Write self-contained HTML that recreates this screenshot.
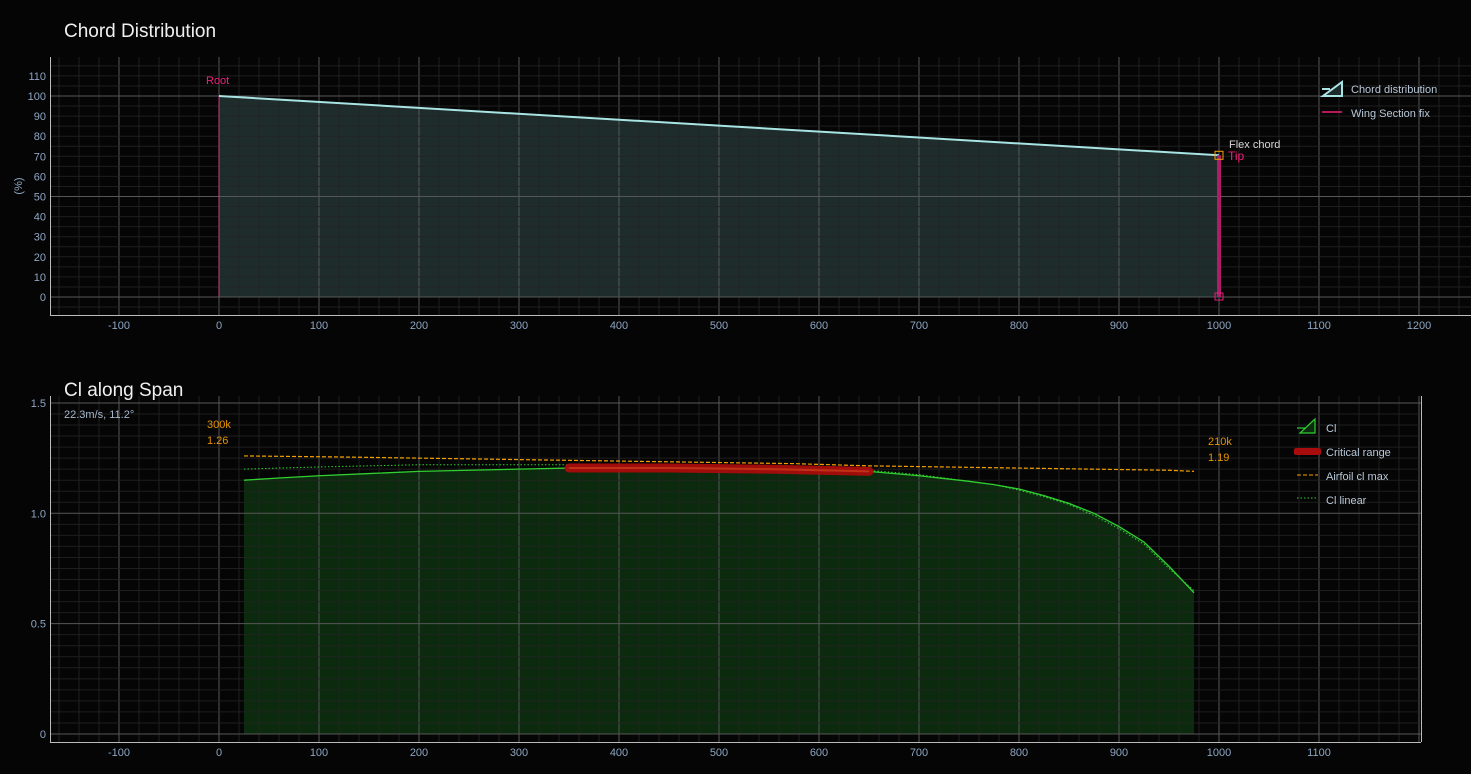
<!DOCTYPE html>
<html><head><meta charset="utf-8">
<style>
html,body{margin:0;padding:0;background:#050505;}
svg{display:block;font-family:"Liberation Sans",sans-serif;}
</style></head>
<body>
<svg id="c" width="1471" height="774" xmlns="http://www.w3.org/2000/svg">
<rect width="1471" height="774" fill="#050505"/>
</svg>
<script>
// ---- chord chart data ----
const chordX = [0, 1000];
const chordY = [100, 70.5];
const chordXTicks = [-100,0,100,200,300,400,500,600,700,800,900,1000,1100,1200];
const chordYTicks = [0,10,20,30,40,50,60,70,80,90,100,110];
// ---- Cl chart data ----
const clX = [25,60,100,150,200,250,300,350,400,450,500,550,600,650,700,750,775,800,825,850,875,900,925,950,975];
const clY = [1.15,1.16,1.17,1.18,1.19,1.195,1.20,1.205,1.205,1.205,1.205,1.203,1.20,1.19,1.17,1.145,1.13,1.11,1.08,1.045,1.00,0.94,0.87,0.76,0.64];
const clLinY = [1.20,1.205,1.21,1.215,1.22,1.22,1.22,1.22,1.215,1.215,1.21,1.21,1.205,1.195,1.175,1.145,1.13,1.105,1.075,1.04,0.99,0.93,0.86,0.75,0.65];
const clMaxX = [25,125,200,275,350,425,500,575,650,725,800,875,950,975];
const clMaxY = [1.26,1.255,1.25,1.245,1.24,1.235,1.23,1.225,1.215,1.21,1.205,1.2,1.195,1.19];
const critX = [350,450,550,600,650];
const critY = [1.205,1.205,1.2,1.195,1.19];
const clXTicks = [-100,0,100,200,300,400,500,600,700,800,900,1000,1100];
const clYTicks = [0,0.5,1.0,1.5];

const NS="http://www.w3.org/2000/svg";
const svg=document.getElementById('c');
function mk(tag,attrs,parent){const e=document.createElementNS(NS,tag);for(const k in attrs)e.setAttribute(k,attrs[k]);(parent||svg).appendChild(e);return e;}
function txt(x,y,s,attrs,name){const e=mk('text',Object.assign({x:x,y:y},attrs));e.textContent=s;


return e;}

const cx = v => 219 + v*1.0;
const cy = v => 297 - v*2.01;
const bx = v => 219 + v*1.0;
const by = v => 734 - v*220.7;
const MINOR='#242424', MAJOR='#575757';

// ---------- Top chart ----------
const g1 = mk('g',{});


txt(64,37,'Chord Distribution',{fill:'#f0f0f0','font-size':19},'chord-title');
let pts=chordX.map((x,i)=>cx(x)+','+cy(chordY[i]));
const area=mk('polygon',{points:cx(chordX[0])+','+cy(0)+' '+pts.join(' ')+' '+cx(chordX[chordX.length-1])+','+cy(0),fill:'#1f2c2c'},g1);


for(let v=-160; v<=1250; v+=20){const x=cx(v); if(x<51||x>1471)continue;
 mk('line',{x1:x,x2:x,y1:57,y2:315,stroke:(v%100===0)?MAJOR:MINOR,'stroke-width':1,'stroke-opacity':(v%100===0)?1:0.8},g1);}
for(let v=-5; v<=120; v+=5){const y=cy(v); if(y<57||y>315)continue;
 mk('line',{x1:50,x2:1471,y1:y,y2:y,stroke:(v%50===0)?MAJOR:MINOR,'stroke-width':1,'stroke-opacity':(v%50===0)?1:0.8},g1);}
mk('line',{x1:50.5,x2:50.5,y1:57,y2:315,stroke:'#bbb'},g1);
mk('line',{x1:50,x2:1471,y1:315.5,y2:315.5,stroke:'#bbb'},g1);
chordXTicks.forEach(v=>txt(cx(v),329,String(v),{fill:'#8ea6c4','font-size':11,'text-anchor':'middle'},'chord-x-tick'));
chordYTicks.forEach(v=>txt(46,cy(v)+4,String(v),{fill:'#8ea6c4','font-size':11,'text-anchor':'end'},'chord-y-tick'));
txt(22,186,'(%)',{fill:'#8ea6c4','font-size':11,'text-anchor':'middle',transform:'rotate(-90 22 186)'},'chord-y-axis-title');
mk('line',{x1:cx(0),x2:cx(0),y1:cy(0),y2:cy(100),stroke:'#c0407a','stroke-width':1},g1);
const cl=mk('polyline',{points:pts.join(' '),fill:'none',stroke:'#a8e4e4','stroke-width':2},g1);


const tipX=chordX[chordX.length-1], tipY=chordY[chordY.length-1];
const wf=mk('rect',{x:cx(tipX)-2,y:cy(tipY),width:4,height:cy(0)-cy(tipY),fill:'#b01c6c'},g1);


mk('rect',{x:cx(tipX)-4,y:cy(0)-4,width:8,height:7,fill:'none',stroke:'#e0207a','stroke-width':1},g1);
const fc=mk('rect',{x:cx(tipX)-4,y:cy(tipY)-4,width:8,height:8,fill:'none',stroke:'#f5a000','stroke-width':1},g1);


txt(206,84,'Root',{fill:'#f0207a','font-size':11},'root-label');
txt(1229,148,'Flex chord',{fill:'#d8d8d8','font-size':11},'flex-chord-label');
txt(1228,160,'Tip',{fill:'#f0207a','font-size':12},'tip-label');
const lg1=mk('g',{});


mk('polygon',{points:'1323,96 1342,96 1342,82',fill:'#1c2a2a',stroke:'#a8e4e4','stroke-width':2},lg1);
mk('line',{x1:1322,x2:1330,y1:89,y2:89,stroke:'#a8e4e4','stroke-width':2},lg1);
txt(1351,93,'Chord distribution',{fill:'#b8c8d8','font-size':11},'legend-chord-distribution');
mk('line',{x1:1322,x2:1342,y1:112,y2:112,stroke:'#f0207a','stroke-width':1.5},lg1);
txt(1351,117,'Wing Section fix',{fill:'#b8c8d8','font-size':11},'legend-wing-section-fix');

// ---------- Bottom chart ----------
const g2 = mk('g',{});


txt(64,396,'Cl along Span',{fill:'#f0f0f0','font-size':19},'cl-title');
const clPts=clX.map((x,i)=>bx(x)+','+by(clY[i]));
const a2=mk('polygon',{points:bx(clX[0])+','+by(0)+' '+clPts.join(' ')+' '+bx(clX[clX.length-1])+','+by(0),fill:'#0b2a0e'},g2);


for(let v=-160; v<=1200; v+=20){const x=bx(v); if(x<51||x>1421)continue;
 mk('line',{x1:x,x2:x,y1:396,y2:742,stroke:(v%100===0)?MAJOR:MINOR,'stroke-opacity':(v%100===0)?1:0.8},g2);}
for(let i=0;i<=32;i++){const v=i*0.05;const y=by(v); if(y<396||y>742)continue;
 mk('line',{x1:50,x2:1421,y1:y,y2:y,stroke:(i%10===0)?MAJOR:MINOR,'stroke-opacity':(i%10===0)?1:0.8},g2);}
mk('line',{x1:50.5,x2:50.5,y1:396,y2:742,stroke:'#bbb'},g2);
mk('line',{x1:50,x2:1421,y1:742.5,y2:742.5,stroke:'#bbb'},g2);
mk('line',{x1:1421.5,x2:1421.5,y1:396,y2:742,stroke:'#bbb'},g2);
clXTicks.forEach(v=>txt(bx(v),756,String(v),{fill:'#8ea6c4','font-size':11,'text-anchor':'middle'},'cl-x-tick'));
clYTicks.forEach(v=>txt(46,by(v)+4,v===0?'0':v.toFixed(1),{fill:'#8ea6c4','font-size':11,'text-anchor':'end'},'cl-y-tick'));
txt(64,418,'22.3m/s, 11.2°',{fill:'#a8b8cc','font-size':11},'flight-condition-label');
const lin=mk('polyline',{points:clX.map((x,i)=>bx(x)+','+by(clLinY[i])).join(' '),fill:'none',stroke:'#30d030','stroke-width':1,'stroke-dasharray':'1.5 2'},g2);


const mx=mk('polyline',{points:clMaxX.map((x,i)=>bx(x)+','+by(clMaxY[i])).join(' '),fill:'none',stroke:'#f5a000','stroke-width':1.2,'stroke-dasharray':'4 2'},g2);


const cll=mk('polyline',{points:clPts.join(' '),fill:'none',stroke:'#30d030','stroke-width':1.3},g2);


const cr=mk('polyline',{points:critX.map((x,i)=>bx(x)+','+by(critY[i])).join(' '),fill:'none',stroke:'#a80c0c','stroke-width':9,'stroke-linecap':'round','stroke-opacity':0.95},g2);


mk('polyline',{points:critX.map((x,i)=>bx(x)+','+by(critY[i])).join(' '),fill:'none',stroke:'#c83a1a','stroke-width':2,'stroke-opacity':0.8},g2);
txt(207,428,'300k',{fill:'#e69400','font-size':11},'root-re-label');
txt(207,444,'1.26',{fill:'#e69400','font-size':11},'root-clmax-label');
txt(1208,445,'210k',{fill:'#e69400','font-size':11},'tip-re-label');
txt(1208,461,'1.19',{fill:'#e69400','font-size':11},'tip-clmax-label');
const lg2=mk('g',{});


mk('polygon',{points:'1300,433 1315,433 1315,419',fill:'#0b2a0e',stroke:'#30d030','stroke-width':1.2},lg2);
mk('line',{x1:1297,x2:1305,y1:428,y2:428,stroke:'#30d030','stroke-width':1.2},lg2);
txt(1326,432,'Cl',{fill:'#b8c8d8','font-size':11},'legend-cl');
mk('rect',{x:1294,y:448,width:27,height:7,rx:2,fill:'#a80c0c'},lg2);
txt(1326,456,'Critical range',{fill:'#b8c8d8','font-size':11},'legend-critical-range');
mk('line',{x1:1297,x2:1318,y1:475,y2:475,stroke:'#f5a000','stroke-dasharray':'4 2'},lg2);
txt(1326,480,'Airfoil cl max',{fill:'#b8c8d8','font-size':11},'legend-airfoil-cl-max');
mk('line',{x1:1297,x2:1318,y1:498,y2:498,stroke:'#30d030','stroke-dasharray':'1.5 2'},lg2);
txt(1326,504,'Cl linear',{fill:'#b8c8d8','font-size':11},'legend-cl-linear');
</script>
</body></html>
